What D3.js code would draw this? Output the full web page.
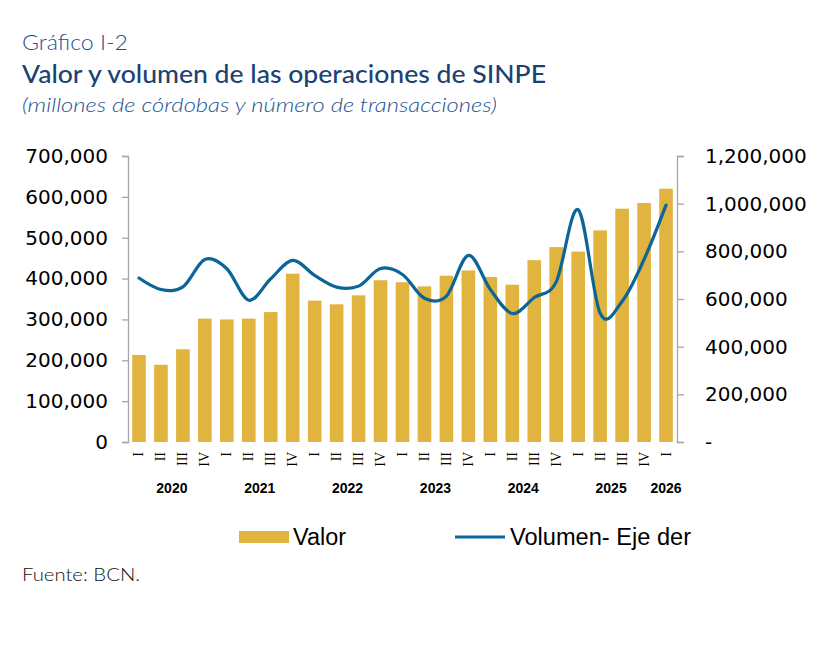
<!DOCTYPE html>
<html>
<head>
<meta charset="utf-8">
<script src="https://cdn.jsdelivr.net/npm/d3@7"></script>
<style>
  body { margin: 0; background: #fff; }
</style>
</head>
<body>
<svg id="chart" width="834" height="660"></svg>
<script>
const years = ["2020", "2021", "2022", "2023", "2024", "2025", "2026"]
const quarters = ["I", "II", "III", "IV", "I", "II", "III", "IV", "I", "II", "III", "IV",
  "I", "II", "III", "IV", "I", "II", "III", "IV", "I", "II", "III", "IV", "I"]
const valor = [213000, 189000, 227000, 302000, 300000, 302000, 318000, 412000,
  346000, 337000, 359000, 396000, 391000, 381000, 407000, 420000,
  404000, 385000, 445000, 477000, 466000, 518000, 571000, 585000, 620000]
const volumen = [688000, 640000, 651000, 766000, 727000, 595000, 685000, 762000,
  699000, 650000, 654000, 728000, 703000, 603000, 612000, 783000,
  640000, 539000, 606000, 672000, 975000, 540000, 590000, 766000, 994000]
const leftTicks = [0, 100000, 200000, 300000, 400000, 500000, 600000, 700000]
const rightTicks = [0, 200000, 400000, 600000, 800000, 1000000, 1200000]

const svg = d3.select("#chart")
const navy = "#1b4275"
const lightNavy = "#1d5190"
const gold = "#e0b43f"
const blue = "#0b6597"
const axisGrey = "#a6a6a6"

// titles
svg.append("text")
  .attr("x", 22).attr("y", 50)
  .attr("fill", lightNavy)
  .style("font-family", "Lato, 'Noto Sans', sans-serif")
  .style("font-size", "21px")
  .style("font-weight", 300)
  .attr("textLength", 106).attr("lengthAdjust", "spacingAndGlyphs")
  .text("Gráfico I-2")

svg.append("text")
  .attr("x", 22).attr("y", 83)
  .attr("fill", navy)
  .style("font-family", "Lato, 'Noto Sans', sans-serif")
  .style("font-size", "25px")
  .style("font-weight", 500)
  .attr("textLength", 524).attr("lengthAdjust", "spacingAndGlyphs")
  .text("Valor y volumen de las operaciones de SINPE")

svg.append("text")
  .attr("x", 22).attr("y", 112)
  .attr("fill", lightNavy)
  .style("font-family", "Lato, 'Noto Sans', sans-serif")
  .style("font-size", "20px")
  .style("font-style", "italic")
  .style("font-weight", 300)
  .attr("textLength", 475).attr("lengthAdjust", "spacingAndGlyphs")
  .text("(millones de córdobas y número de transacciones)")

// scales
const idx = d3.range(quarters.length)
const x = d3.scaleBand()
  .domain(idx)
  .range([128, 677])
  .paddingInner(0.38)
  .paddingOuter(0.19)

const yL = d3.scaleLinear().domain([0, 700000]).range([442, 156])
const yR = d3.scaleLinear().domain([0, 1200000]).range([442, 156])

const fmt = d3.format(",")

// left axis
const axL = svg.append("g")
  .attr("transform", "translate(128,0)")
  .call(d3.axisLeft(yL).tickValues(leftTicks).tickSize(6).tickPadding(14).tickFormat(fmt))
axL.selectAll("text")
  .style("font-family", "'DejaVu Sans', Verdana, sans-serif")
  .style("font-size", "20px")
  .attr("fill", "#000")

// right axis
const axR = svg.append("g")
  .attr("transform", "translate(677,0)")
  .call(d3.axisRight(yR).tickValues(rightTicks).tickSize(7).tickPadding(21)
    .tickFormat(d => d === 0 ? "-" : fmt(d)))
axR.selectAll("text")
  .style("font-family", "'DejaVu Sans', Verdana, sans-serif")
  .style("font-size", "20px")
  .attr("fill", "#000")

svg.selectAll(".domain, .tick line")
  .attr("stroke", axisGrey)
  .attr("stroke-width", 1.3)

// bars
svg.append("g")
  .selectAll("rect")
  .data(valor)
  .enter().append("rect")
  .attr("x", (d, i) => x(i))
  .attr("y", d => yL(d))
  .attr("width", x.bandwidth())
  .attr("height", d => yL(0) - yL(d))
  .attr("fill", gold)

// volume line
const line = d3.line()
  .x((d, i) => x(i) + x.bandwidth() / 2)
  .y(d => yR(d))
  .curve(d3.curveCardinal)

svg.append("path")
  .datum(volumen)
  .attr("fill", "none")
  .attr("stroke", blue)
  .attr("stroke-width", 3.2)
  .attr("stroke-linecap", "round")
  .attr("d", line)

// quarter labels (rotated)
svg.append("g")
  .selectAll("text")
  .data(quarters)
  .enter().append("text")
  .attr("transform", (d, i) => `translate(${x(i) + x.bandwidth() / 2 + 4.5},452) rotate(-90)`)
  .attr("text-anchor", "end")
  .style("font-family", "'Liberation Serif', 'DejaVu Serif', serif")
  .style("font-size", "14px")
  .attr("fill", "#000")
  .text(d => d)

// year labels centred under each group
svg.append("g")
  .selectAll("text")
  .data(years)
  .enter().append("text")
  .attr("x", (d, j) => {
    const members = idx.filter(i => Math.floor(i / 4) === j)
    return d3.mean(members, i => x(i) + x.bandwidth() / 2)
  })
  .attr("y", 493)
  .attr("text-anchor", "middle")
  .style("font-family", "'Liberation Sans', Arial, sans-serif")
  .style("font-size", "14px")
  .style("font-weight", "bold")
  .attr("fill", "#000")
  .text(d => d)

// legend
const legend = svg.append("g")
legend.append("rect")
  .attr("x", 239).attr("y", 531)
  .attr("width", 50).attr("height", 12)
  .attr("fill", gold)
legend.append("text")
  .attr("x", 293).attr("y", 545)
  .style("font-family", "'Liberation Sans', Arial, sans-serif")
  .style("font-size", "23px")
  .attr("fill", "#000")
  .attr("textLength", 53).attr("lengthAdjust", "spacingAndGlyphs")
  .text("Valor")
legend.append("line")
  .attr("x1", 455).attr("x2", 505)
  .attr("y1", 537).attr("y2", 537)
  .attr("stroke", blue)
  .attr("stroke-width", 3)
legend.append("text")
  .attr("x", 510).attr("y", 545)
  .style("font-family", "'Liberation Sans', Arial, sans-serif")
  .style("font-size", "23px")
  .attr("fill", "#000")
  .attr("textLength", 181).attr("lengthAdjust", "spacingAndGlyphs")
  .text("Volumen- Eje der")

// source
svg.append("text")
  .attr("x", 22).attr("y", 581)
  .style("font-family", "Lato, 'Noto Sans', sans-serif")
  .style("font-size", "17px")
  .style("font-weight", 300)
  .attr("fill", "#111")
  .attr("textLength", 118).attr("lengthAdjust", "spacingAndGlyphs")
  .text("Fuente: BCN.")
</script>
</body>
</html>
